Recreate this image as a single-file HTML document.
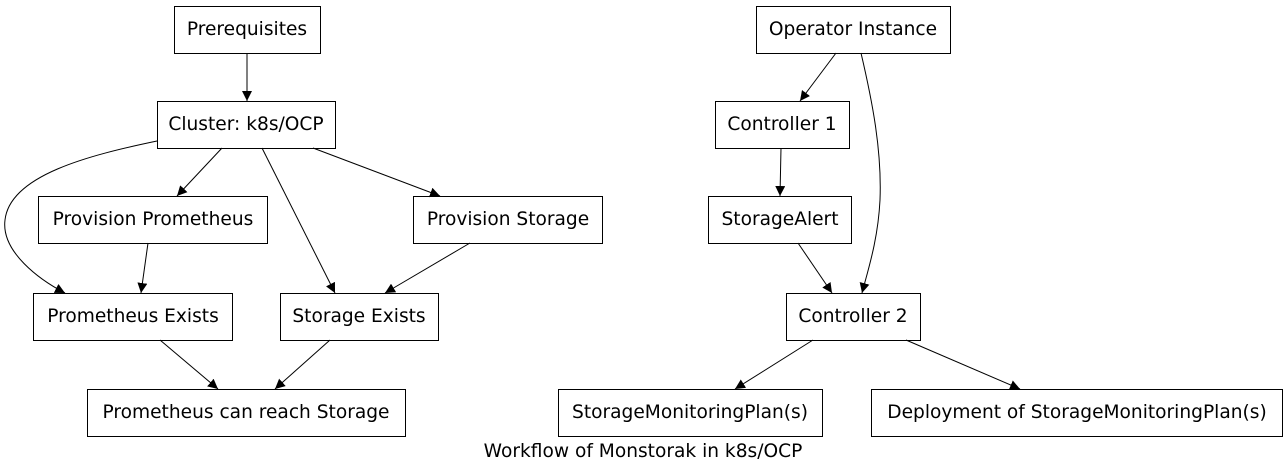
<!DOCTYPE html>
<html><head><meta charset="utf-8"><style>
html,body{margin:0;padding:0;background:#fff;}
svg{display:block;}
text{font-family:"DejaVu Sans","Liberation Sans",sans-serif;font-size:18.6px;fill:#000;}
</style></head><body>
<svg width="1287" height="473" viewBox="0 0 1287 473" xmlns="http://www.w3.org/2000/svg">
<defs><marker id="a" viewBox="0 0 10 10" refX="10" refY="5" markerWidth="10" markerHeight="10" markerUnits="userSpaceOnUse" orient="auto"><path d="M0,0L10,5L0,10z" fill="#000"/></marker></defs>
<rect width="1287" height="473" fill="#fff"/>
<g fill="none" stroke="#000" stroke-width="1">
<rect x="174.5" y="6.5" width="146" height="47"/>
<rect x="157.5" y="101.5" width="178" height="47"/>
<rect x="38.5" y="196.5" width="229" height="47"/>
<rect x="413.5" y="196.5" width="189" height="47"/>
<rect x="33.5" y="293.5" width="199" height="47"/>
<rect x="280.5" y="293.5" width="158" height="47"/>
<rect x="87.5" y="389.5" width="318" height="47"/>
<rect x="756.5" y="6.5" width="194" height="47"/>
<rect x="715.5" y="101.5" width="134" height="47"/>
<rect x="708.5" y="196.5" width="143" height="47"/>
<rect x="786.5" y="293.5" width="134" height="47"/>
<rect x="558.5" y="389.5" width="264" height="47"/>
<rect x="871.5" y="389.5" width="411" height="47"/>
</g>
<g fill="none" stroke="#000" stroke-width="1" marker-end="url(#a)">
<path d="M247,53L247,101"/>
<path d="M222,148L177,196"/>
<path d="M157,141C90,155 10,175 5,220C1,252 40,280 65,293"/>
<path d="M262,148L335,293"/>
<path d="M313,148L440,196"/>
<path d="M148,243L141,293"/>
<path d="M470,243L385,293"/>
<path d="M160,340L218,389"/>
<path d="M330,340L275,389"/>
<path d="M836,53L800,101"/>
<path d="M861,53C872,100 882,150 880,200C878,240 868,270 862,293"/>
<path d="M781,148L780,196"/>
<path d="M798,243L832,293"/>
<path d="M813,340L735,389"/>
<path d="M906,340L1020,389"/>
</g>
<g text-anchor="middle">
<text x="247" y="35">Prerequisites</text>
<text x="246" y="130">Cluster: k8s/OCP</text>
<text x="153" y="225">Provision Prometheus</text>
<text x="508" y="225">Provision Storage</text>
<text x="133" y="322">Prometheus Exists</text>
<text x="359" y="322">Storage Exists</text>
<text x="246" y="418">Prometheus can reach Storage</text>
<text x="853" y="35">Operator Instance</text>
<text x="782" y="130">Controller 1</text>
<text x="780" y="225">StorageAlert</text>
<text x="853" y="322">Controller 2</text>
<text x="690" y="418">StorageMonitoringPlan(s)</text>
<text x="1077" y="418">Deployment of StorageMonitoringPlan(s)</text>
<text x="643" y="457">Workflow of Monstorak in k8s/OCP</text>
</g>
</svg>
</body></html>
